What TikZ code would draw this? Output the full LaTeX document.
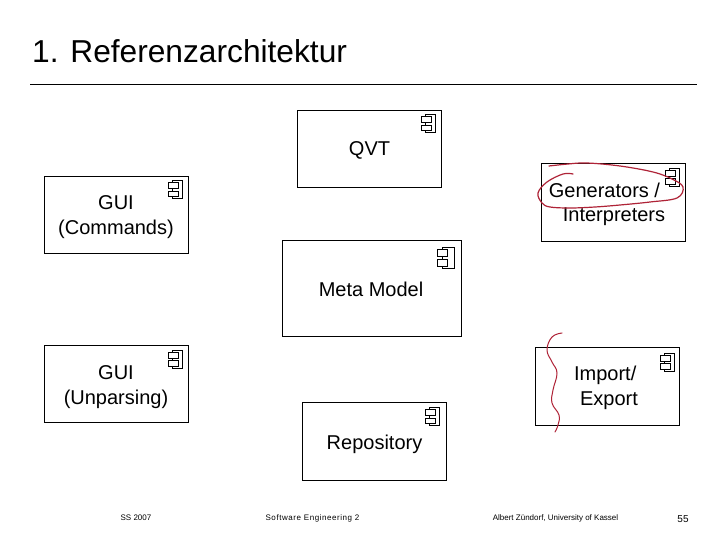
\documentclass[tikz,border=0pt]{standalone}
\usepackage{fontspec}
\setmainfont{Liberation Sans}
\definecolor{inkred}{RGB}{175,35,55}
\tikzset{
  x=1pt,y=-1pt,
  compbox/.style={draw=black,line width=0.9pt,fill=white},
  lbl/.style={font=\fontsize{20}{24.5}\selectfont,inner sep=0pt,text=black},
  foot/.style={font=\fontsize{8}{10}\selectfont,inner sep=0pt,text=black},
  ink/.style={draw=inkred,line width=1.2pt,line cap=round,line join=round},
  pics/compicon/.style={code={
    \draw[line width=0.7pt,fill=white] (4,0) rectangle (14,18);
    \draw[line width=0.7pt,fill=white] (0,2) rectangle (10,8);
    \draw[line width=0.7pt,fill=white] (0,10.5) rectangle (10,16);
  }},
  pics/compiconbig/.style={code={
    \draw[line width=0.7pt,fill=white] (5,0) rectangle (17,21);
    \draw[line width=0.7pt,fill=white] (0,2.5) rectangle (10,9);
    \draw[line width=0.7pt,fill=white] (0,12) rectangle (10,19);
  }}
}
\begin{document}
\begin{tikzpicture}
\useasboundingbox (0,0) rectangle (720,540);
\fill[white] (0,0) rectangle (720,540);
\node[font=\fontsize{31.7}{38}\selectfont,anchor=base west,inner sep=0pt] (title) at (32,62.5) {1. Referenzarchitektur};
\draw[line width=0.8pt,black] (30,84.5) -- (697,84.5);

\draw[compbox] (297,110) rectangle (441,187);
\draw[compbox] (541.5,163) rectangle (685.5,241);
\draw[compbox] (44,176) rectangle (188,253.5);
\draw[compbox] (282,240) rectangle (461,336);
\draw[compbox] (44,345) rectangle (188,422.5);
\draw[compbox] (535,347) rectangle (679,425);
\draw[compbox] (302,402) rectangle (446,480);

\pic at (421.5,114.5) {compicon};
\pic at (665.5,168) {compicon};
\pic at (168.5,180.5) {compicon};
\pic at (437,247) {compiconbig};
\pic at (168.5,350) {compicon};
\pic at (660,353) {compicon};
\pic at (425,407.5) {compicon};

\node[lbl,anchor=base] (qvt) at (369.5,156) {QVT};
\node[lbl,align=left] (gen) at (607,204.5) {Generators /\\\hspace*{14pt}Interpreters};
\node[lbl,align=center] (gc) at (116,217) {GUI\\(Commands)};
\node[lbl,anchor=base] (mm) at (371,296) {Meta Model};
\node[lbl,align=center] (gu) at (116,387) {GUI\\(Unparsing)};
\node[lbl,align=left] (ie) at (606,388) {Import/\\\hspace*{6pt}Export};
\node[lbl,anchor=base] (rep) at (374.5,449) {Repository};

\draw[ink] plot[smooth,tension=0.6] coordinates {(549,166) (568,164) (587,163) (620,166) (653,172) (672,179) (683,187) (677,198) (650,202) (620,205) (595,207) (570,208) (550,207) (542,203) (538,193) (547,182) (563,174) (573,174)};
\draw[ink,line width=1pt] plot[smooth,tension=0.7] coordinates {(562,333) (552,337) (547,350) (552,362) (557,373) (553,390) (552,403) (559,415) (558,425) (555,432)};

\node[foot,anchor=base] (f1) at (136,520) {SS 2007};
\node[foot,anchor=base] (f2) at (312.5,520) {\addfontfeature{LetterSpace=7}Software Engineering 2};
\node[foot,anchor=base] (f3) at (555.5,520) {Albert Zündorf, University of Kassel};
\node[font=\fontsize{10}{12}\selectfont,inner sep=0pt,anchor=base] (f4) at (683,522) {55};
\end{tikzpicture}
\end{document}
